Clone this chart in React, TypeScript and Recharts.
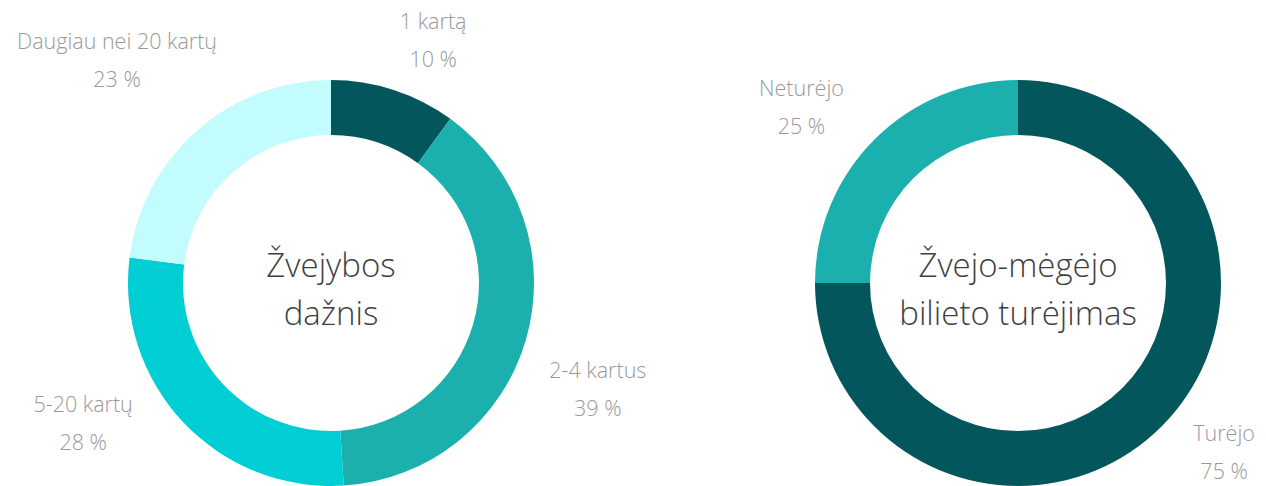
import React from 'react';
import { PieChart, Pie, Cell } from 'recharts';

const freqCategories = ['1 kartą', '2-4 kartus', '5-20 kartų', 'Daugiau nei 20 kartų'];
const freqValues = [10, 39, 28, 23];
const licenseCategories = ['Turėjo', 'Neturėjo'];
const licenseValues = [75, 25];

const freqTitle = ['Žvejybos', 'dažnis'];
const licenseTitle = ['Žvejo-mėgėjo', 'bilieto turėjimas'];

const freqColors = ['#03575C', '#1BB0AE', '#00CED5', '#C2FCFC'];
const licenseColors = ['#03575C', '#1BB0AE'];

// label layout nudges (degrees, clockwise) imitating the collision-avoidance of the original
const freqLabelNudge = [0, 9.4, 8.5, 12.2];
const licenseLabelNudge = [-2, -1.6];

const freqData = freqCategories.map((name, i) => ({ name, value: freqValues[i] }));
const licenseData = licenseCategories.map((name, i) => ({ name, value: licenseValues[i] }));

const FONT = '"Open Sans", "Noto Sans", sans-serif';
const LABEL_SIZE = 21.5;
const TITLE_SIZE = 33;
const RAD = Math.PI / 180;

const LEFT_CX = 331;
const RIGHT_CX = 1018;
const CY = 283;

let ctx: CanvasRenderingContext2D | null = null;
function measure(s: string): number {
  if (!ctx) {
    const c = document.createElement('canvas');
    ctx = c.getContext('2d');
  }
  if (!ctx) return s.length * 10;
  ctx.font = `300 ${LABEL_SIZE}px ${FONT}`;
  return ctx.measureText(s).width;
}

function makeLabel(nudges: number[]) {
  return (props: any) => {
    const { cx, cy, midAngle, outerRadius, index, name, value } = props;
    const a = (midAngle - nudges[index]) * RAD;
    const r = outerRadius + 49;
    const px = cx + r * Math.cos(a);
    const py = cy - r * Math.sin(a);
    const side = Math.cos(a) >= 0 ? 1 : -1;
    const line2 = `${value} %`;
    const w = Math.max(measure(name), measure(line2));
    const bx = px + side * (w / 2 - 9);
    const style = { fontFamily: FONT, fontWeight: 300, fontSize: LABEL_SIZE, fill: '#999999' };
    return (
      <g key={`lbl-${index}`}>
        <text x={bx} y={py - 14} textAnchor="middle" style={style}>{name}</text>
        <text x={bx} y={py + 24} textAnchor="middle" style={style}>{line2}</text>
      </g>
    );
  };
}

function Title({ cx, lines }: { cx: number; lines: string[] }) {
  const style: React.CSSProperties = {
    position: 'absolute',
    left: cx - 150,
    width: 300,
    textAlign: 'center',
    fontFamily: FONT,
    fontWeight: 300,
    fontSize: TITLE_SIZE,
    color: '#3F3F3F',
    lineHeight: '48px',
    top: CY - 42,
    whiteSpace: 'nowrap',
  };
  return (
    <div style={style}>
      <div>{lines[0]}</div>
      <div>{lines[1]}</div>
    </div>
  );
}

export default function App() {
  return (
    <div style={{ position: 'absolute', left: 0, top: 0, width: 1266, height: 486, background: '#fff', overflow: 'hidden' }}>
      <PieChart width={1266} height={486} margin={{ top: 0, right: 0, bottom: 0, left: 0 }}>
        <Pie
          data={freqData}
          dataKey="value"
          nameKey="name"
          cx={LEFT_CX}
          cy={CY}
          innerRadius={148}
          outerRadius={203}
          startAngle={90}
          endAngle={-270}
          stroke="none"
          labelLine={false}
          label={makeLabel(freqLabelNudge)}
          isAnimationActive={false}
        >
          {freqData.map((d, i) => (
            <Cell key={d.name} fill={freqColors[i]} />
          ))}
        </Pie>
        <Pie
          data={licenseData}
          dataKey="value"
          nameKey="name"
          cx={RIGHT_CX}
          cy={CY}
          innerRadius={148}
          outerRadius={203}
          startAngle={90}
          endAngle={-270}
          stroke="none"
          labelLine={false}
          label={makeLabel(licenseLabelNudge)}
          isAnimationActive={false}
        >
          {licenseData.map((d, i) => (
            <Cell key={d.name} fill={licenseColors[i]} />
          ))}
        </Pie>
      </PieChart>
      <Title cx={LEFT_CX} lines={freqTitle} />
      <Title cx={RIGHT_CX} lines={licenseTitle} />
    </div>
  );
}
